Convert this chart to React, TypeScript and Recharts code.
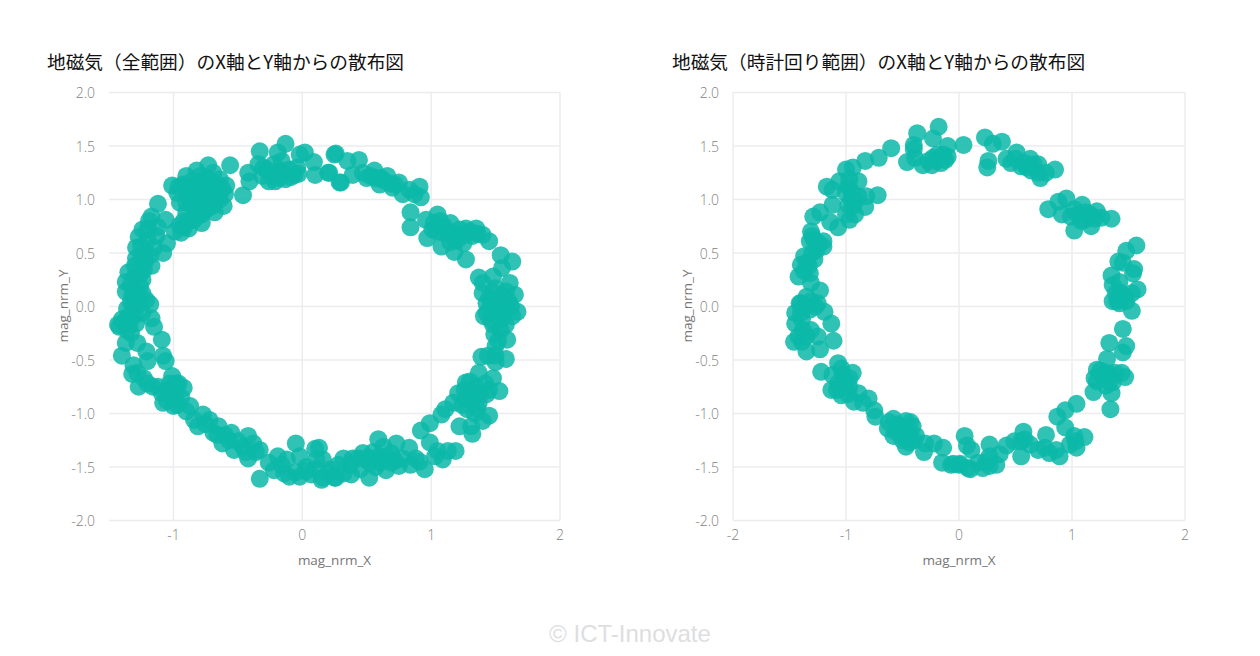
import { CartesianGrid, ReferenceLine, Scatter, ScatterChart, XAxis, YAxis } from "recharts"

type Pt = [number, number]

const yTicks = [-2, -1.5, -1, -0.5, 0, 0.5, 1, 1.5, 2]
const fullXTicks = [-1, 0, 1, 2]
const clockXTicks = [-2, -1, 0, 1, 2]

const fullTitle = "地磁気（全範囲）のX軸とY軸からの散布図"
const clockTitle = "地磁気（時計回り範囲）のX軸とY軸からの散布図"

// 全範囲
const fullTop: Pt[] = [
  [-0.13, 1.52], [-0.33, 1.45], [-0.19, 1.44], [0.02, 1.44], [0.09, 1.35], [-0.56, 1.32], [-0.73, 1.32],
  [0.25, 1.42], [0.21, 1.25], [0.1, 1.23], [0.3, 1.16], [-0.46, 1.04], [-0.42, 1.25], [-0.41, 1.17],
  [-0.34, 1.33], [-0.26, 1.17], [-0.21, 1.17], [-0.13, 1.19], [-0.06, 1.23], [-0.02, 1.42], [-0.1, 1.28],
  [-0.17, 1.27], [-0.28, 1.28], [-0.16, 1.36], [-0.04, 1.3], [-0.31, 1.22], [-0.23, 1.22], [-0.09, 1.21],
  [-0.18, 1.2], [-0.03, 1.24], [-0.3, 1.3], [-0.22, 1.33],
]
const fullUpperLeft: Pt[] = [
  [-0.9, 1.22], [-1.01, 1.13], [-0.82, 1.27], [-0.79, 1.22], [-0.6, 1.05], [-0.59, 1.13], [-0.64, 1.19],
  [-0.69, 1.25], [-0.74, 1.16], [-0.82, 1.13], [-0.9, 1.09], [-0.97, 1.06], [-0.95, 0.97], [-0.87, 1.0],
  [-0.79, 1.03], [-0.72, 1.03], [-0.64, 1.0], [-0.61, 0.94], [-0.68, 0.88], [-0.74, 0.91], [-0.82, 0.94],
  [-0.9, 0.88], [-0.84, 0.81], [-0.78, 0.78], [-0.88, 0.73], [-0.94, 0.69], [-0.99, 0.7], [-0.92, 0.8],
  [-0.77, 1.1], [-0.85, 1.05], [-0.7, 1.12], [-0.66, 1.08], [-0.76, 0.98], [-0.86, 1.17], [-0.93, 1.14],
  [-0.8, 1.08], [-0.72, 1.08], [-0.68, 0.98], [-0.78, 0.86], [-0.84, 0.92], [-0.9, 0.97], [-0.86, 1.1],
  [-0.74, 1.2], [-0.66, 1.14], [-0.8, 1.16], [-0.7, 0.94], [-0.82, 0.85], [-0.88, 0.8], [-0.95, 0.76],
  [-0.92, 0.74], [-0.74, 1.05], [-0.62, 1.1], [-0.96, 1.12], [-0.78, 0.96], [-0.71, 1.17],
  [-1.12, 0.96], [-1.17, 0.84], [-1.24, 0.72], [-1.06, 0.81], [-1.19, 0.8], [-1.13, 0.66], [-1.05, 0.59],
  [-1.08, 0.5], [-1.17, 0.38], [-1.29, 0.55], [-1.29, 0.45], [-1.25, 0.44], [-1.35, 0.32], [-1.23, 0.34],
  [-1.37, 0.23], [-1.37, 0.14], [-1.26, 0.19], [-1.28, 0.13], [-1.21, 0.06], [-1.32, 0.1], [-1.3, 0.28],
  [-1.22, 0.5], [-1.2, 0.62], [-1.27, 0.65], [-1.15, 0.55], [-1.22, 0.42], [-1.26, 0.3], [-1.3, 0.38],
  [-1.33, 0.2], [-1.27, 0.06], [-1.24, 0.12], [-1.24, 0.25], [-1.18, 0.48], [-1.12, 0.74], [-1.25, 0.56],
  [-1.33, 0.04], [-1.2, 0.72],
]
const fullRight: Pt[] = [
  [0.26, 1.43], [0.2, 1.25], [0.29, 1.16], [0.35, 1.36], [0.44, 1.37], [0.39, 1.23], [0.5, 1.2], [0.56, 1.27],
  [0.6, 1.14], [0.66, 1.22], [0.7, 1.11], [0.75, 1.16], [0.78, 1.05], [0.83, 1.09], [0.91, 1.12], [0.92, 1.02],
  [0.87, 1.05], [0.53, 1.22], [0.63, 1.18], [0.57, 1.2], [0.68, 1.15], [0.72, 1.14], [0.47, 1.25], [0.61, 1.2],
  [0.84, 0.88], [0.84, 0.74], [1.05, 0.86], [0.96, 0.81], [1.15, 0.78],
  [1.01, 0.72], [0.97, 0.64], [1.08, 0.56], [1.18, 0.51], [1.27, 0.44], [1.09, 0.69], [1.17, 0.66], [1.25, 0.59],
  [1.27, 0.73], [1.35, 0.73], [1.4, 0.67], [1.45, 0.61], [1.22, 0.72], [1.32, 0.66], [1.1, 0.75], [1.2, 0.62],
  [1.13, 0.7], [1.05, 0.7], [1.3, 0.7], [1.15, 0.6], [1.24, 0.66], [1.02, 0.78], [1.36, 0.68], [1.07, 0.8],
  [1.54, 0.48], [1.63, 0.42], [1.55, 0.36], [1.48, 0.28], [1.37, 0.27], [1.4, 0.22], [1.61, 0.22], [1.4, 0.125],
  [1.65, 0.11], [1.43, 0.03], [1.67, -0.05], [1.43, -0.06], [1.55, 0.1], [1.5, 0.17], [1.58, 0.02], [1.5, -0.02],
  [1.41, -0.09], [1.5, -0.06], [1.63, -0.09], [1.58, -0.17], [1.48, -0.17], [1.49, -0.26], [1.59, -0.31],
  [1.5, -0.37], [1.5, -0.46], [1.39, -0.47], [1.58, -0.49], [1.5, -0.52], [1.54, -0.12], [1.45, 0.08],
  [1.58, 0.14], [1.6, 0.05], [1.52, 0.06], [1.46, 0.0], [1.55, -0.04], [1.62, 0.0], [1.46, -0.12], [1.54, -0.22],
  [1.52, -0.32], [1.48, 0.13], [1.56, -0.08], [1.44, -0.46],
]
const fullLowerRight: Pt[] = [
  [1.37, -0.62], [1.48, -0.67], [1.53, -0.79], [1.27, -0.71], [1.21, -0.81], [1.32, -0.81], [1.43, -0.82],
  [1.27, -0.87], [1.37, -0.9], [1.28, -0.96], [1.45, -1.02], [1.4, -1.07], [1.22, -1.12], [1.31, -1.12],
  [1.32, -1.19], [1.17, -0.9], [1.11, -0.96], [1.08, -1.01], [1.35, -0.75], [1.3, -0.7], [1.42, -0.72],
  [1.32, -0.86], [1.38, -0.82], [1.26, -0.78], [1.45, -0.78], [1.36, -0.96], [1.24, -0.92], [1.34, -1.0],
  [0.99, -1.09], [0.92, -1.16], [0.99, -1.27], [1.19, -1.35], [1.13, -1.35], [1.09, -1.43], [1.05, -1.35],
  [1.03, -1.4], [0.95, -1.52], [0.91, -1.45], [0.83, -1.32], [0.84, -1.48], [0.75, -1.49], [0.73, -1.28],
  [0.59, -1.24], [0.63, -1.31], [0.66, -1.42], [0.65, -1.53], [0.52, -1.6], [0.47, -1.37], [0.52, -1.46],
  [0.6, -1.4], [0.69, -1.37], [0.32, -1.42], [0.38, -1.57], [0.39, -1.42], [0.26, -1.6], [0.32, -1.56],
  [0.16, -1.6], [0.16, -1.43], [0.13, -1.32], [0.45, -1.52], [0.57, -1.5], [0.72, -1.44], [0.22, -1.52],
  [0.55, -1.36], [0.6, -1.46], [0.43, -1.42], [0.37, -1.48], [0.28, -1.48], [0.2, -1.56], [0.78, -1.42],
  [0.88, -1.42], [0.49, -1.42], [0.69, -1.46], [0.1, -1.52], [0.03, -1.5], [0.55, -1.42],
]
const fullLowerLeft: Pt[] = [
  [-0.33, -1.61], [-0.05, -1.28], [0.1, -1.33], [-0.02, -1.4], [0.11, -1.43], [-0.22, -1.53], [-0.26, -1.46],
  [-0.19, -1.4], [-0.12, -1.43], [-0.1, -1.59], [-0.02, -1.59], [0.07, -1.57], [0.15, -1.62], [0.25, -1.6],
  [-0.14, -1.56], [-0.33, -1.34], [-0.42, -1.42], [-0.42, -1.21], [-0.38, -1.28], [-0.46, -1.31], [-0.53, -1.34],
  [-0.55, -1.18], [-0.62, -1.28], [-0.57, -1.25], [-0.65, -1.12], [-0.69, -1.18], [-0.77, -1.01], [-0.81, -1.12],
  [-0.84, -1.06], [-0.87, -0.93], [-1.0, -0.93], [-1.08, -0.9], [-0.92, -0.76], [-1.01, -0.65], [-0.96, -0.72],
  [-1.04, -0.78], [-0.98, -0.86], [-1.09, -0.81], [-1.16, -0.75], [-1.27, -0.75], [-1.23, -0.67], [-1.32, -0.63],
  [-1.31, -0.55], [-1.21, -0.42], [-1.2, -0.51], [-1.06, -0.51], [-1.08, -0.46], [-1.09, -0.31], [-1.15, -0.19],
  [-1.28, -0.34], [-1.4, -0.46], [-1.37, -0.34], [-1.42, -0.19], [-1.38, -0.14], [-1.29, -0.16], [-1.33, -0.25],
  [-1.18, 0.02], [-1.31, 0], [-1.24, -0.06], [-1.35, -0.09], [-1.17, -0.11], [-0.94, -0.85], [-1.03, -0.72],
  [-0.72, -1.06], [-0.6, -1.2], [-0.5, -1.26], [-0.44, -1.36], [-0.36, -1.36], [-0.75, -1.1], [-0.66, -1.2],
  [-0.9, -0.98], [-1.05, -0.88], [-0.97, -0.92], [-1.0, -0.78], [-0.98, -0.72], [-1.12, -0.75], [-0.05, -1.55],
  [0.03, -1.54], [-0.16, -1.48], [-1.36, -0.22], [-1.4, -0.12], [-1.3, -0.08], [-1.27, 0.02], [-1.36, -0.02],
  [-1.28, -0.62], [-1.2, -0.72], [-1.43, -0.17], [-1.34, -0.16],
]

// 時計回り範囲
const clockTop: Pt[] = [
  [-0.18, 1.68], [-0.37, 1.62], [-0.23, 1.57], [-0.4, 1.51], [-0.4, 1.47], [0.04, 1.51], [-0.1, 1.5], [-0.6, 1.48],
  [-0.71, 1.39], [-0.83, 1.36], [-0.94, 1.3], [-1.0, 1.28], [-0.46, 1.35], [-0.39, 1.39], [-0.32, 1.32], [-0.24, 1.32],
  [-0.16, 1.34], [-0.1, 1.4], [-0.19, 1.42], [-0.23, 1.39], [-0.14, 1.42], [-0.2, 1.36], [-0.27, 1.36], [-0.12, 1.37],
]
const clockUpperLeft: Pt[] = [
  [-1.06, 1.17], [-0.89, 1.17], [-1.17, 1.12], [-1.12, 1.09], [-0.98, 1.12], [-0.97, 1.19], [-0.72, 1.04], [-0.82, 1.03],
  [-0.89, 1.03], [-0.83, 0.93], [-0.95, 1.0], [-1.12, 0.95], [-1.23, 0.88], [-1.29, 0.84], [-1.14, 0.79], [-1.07, 0.74],
  [-1.0, 0.86], [-0.97, 0.81], [-0.92, 0.86], [-0.94, 0.94], [-0.98, 0.95], [-0.95, 1.07], [-0.92, 0.98], [-1.0, 1.06],
  [-1.31, 0.7], [-1.32, 0.61], [-1.2, 0.61], [-1.2, 0.56], [-1.26, 0.53], [-1.37, 0.47], [-1.4, 0.39], [-1.35, 0.41],
  [-1.28, 0.44], [-1.42, 0.28], [-1.32, 0.31], [-1.31, 0.22], [-1.23, 0.15], [-1.35, 0.09], [-1.4, 0.03], [-1.25, 0.03],
  [-1.28, 0.62], [-1.3, 0.5], [-1.33, 0.38], [-1.37, 0.33], [-1.24, 0.59], [-1.3, 0.66],
]
const clockLowerLeft: Pt[] = [
  [-1.31, 0.05], [-1.41, 0.03], [-1.19, -0.05], [-1.13, -0.16], [-1.11, -0.32], [-1.45, -0.06], [-1.45, -0.16], [-1.46, -0.33],
  [-1.39, -0.33], [-1.35, -0.42], [-1.23, -0.4], [-1.25, -0.28], [-1.31, -0.22], [-1.38, -0.22], [-1.39, -0.12], [-1.32, -0.03],
  [-1.36, 0.0], [-1.4, -0.06], [-1.35, -0.28], [-1.42, -0.28], [-1.27, 0.0],
  [-1.22, -0.61], [-1.07, -0.53], [-0.94, -0.62], [-1.12, -0.64], [-1.03, -0.64], [-1.13, -0.78], [-1.04, -0.83], [-0.97, -0.75],
  [-1.07, -0.72], [-0.89, -0.81], [-0.93, -0.89], [-0.8, -0.86], [-0.85, -0.9], [-0.75, -0.97], [-0.74, -1.03],
  [-1.02, -0.74], [-1.0, -0.7], [-1.08, -0.78], [-0.97, -0.67], [-1.04, -0.58], [-0.98, -0.82],
  [-0.58, -1.05], [-0.63, -1.14], [-0.58, -1.21], [-0.47, -1.07], [-0.41, -1.12], [-0.44, -1.18], [-0.53, -1.15], [-0.5, -1.25],
  [-0.47, -1.31], [-0.4, -1.25], [-0.38, -1.21], [-0.3, -1.28], [-0.31, -1.36], [-0.22, -1.28], [-0.14, -1.32], [-0.15, -1.46],
  [-0.07, -1.48], [0, -1.48], [0.08, -1.51], [-0.55, -1.1], [-0.62, -1.08], [-0.56, -1.17], [-0.48, -1.2], [-0.44, -1.27],
  [-0.5, -1.14], [-0.43, -1.08],
]
const clockUpperRight: Pt[] = [
  [0.23, 1.58], [0.3, 1.52], [0.38, 1.54], [0.26, 1.36], [0.25, 1.3], [0.42, 1.38], [0.51, 1.44], [0.46, 1.34], [0.55, 1.31],
  [0.63, 1.38], [0.64, 1.27], [0.7, 1.33], [0.72, 1.2], [0.77, 1.25], [0.85, 1.28], [0.7, 1.25], [0.5, 1.38], [0.58, 1.34],
  [0.6, 1.3], [0.66, 1.33],
  [0.79, 0.91], [0.88, 0.98], [0.95, 1.01], [0.91, 0.86], [1.09, 0.95], [1.02, 0.91], [1.02, 0.71], [1.17, 0.75], [1.11, 0.81],
  [1.22, 0.89], [1.26, 0.83], [1.35, 0.82], [0.99, 0.84], [1.16, 0.86], [1.08, 0.8], [1.05, 0.86], [1.12, 0.88], [1.2, 0.82],
  [1.57, 0.57], [1.48, 0.52], [1.41, 0.42], [1.45, 0.41], [1.55, 0.35], [1.54, 0.31], [1.35, 0.29], [1.36, 0.2], [1.42, 0.23],
  [1.58, 0.16], [1.53, 0.125], [1.36, 0.05], [1.42, 0.03], [1.48, 0.05], [1.39, 0.125], [1.53, -0.04], [1.43, 0.13], [1.46, 0.1],
  [1.4, 0.05],
]
const clockLowerRight: Pt[] = [
  [1.45, -0.21], [1.33, -0.34], [1.48, -0.37], [1.45, -0.43], [1.31, -0.49], [1.22, -0.59], [1.2, -0.67], [1.44, -0.62], [1.47, -0.66],
  [1.33, -0.63], [1.27, -0.65], [1.36, -0.71], [1.19, -0.8], [1.35, -0.81], [1.34, -0.96], [1.22, -0.7], [1.3, -0.74], [1.33, -0.7],
  [1.25, -0.6], [1.38, -0.62], [1.3, -0.62],
  [1.04, -0.91], [0.94, -0.97], [0.87, -1.03], [0.94, -1.13], [1.11, -1.22], [1.02, -1.21], [0.77, -1.2], [1.04, -1.32], [0.98, -1.29],
  [0.89, -1.4], [0.8, -1.37], [0.76, -1.32], [0.86, -1.34], [0.7, -1.34], [0.57, -1.17], [0.55, -1.4], [0.49, -1.26], [0.63, -1.29],
  [0.55, -1.26], [0.42, -1.3], [0.27, -1.29], [0.05, -1.21], [0.07, -1.3], [0.11, -1.34], [0.36, -1.38], [0.33, -1.48], [0.21, -1.51],
  [0.1, -1.52], [0.27, -1.4], [0.27, -1.49], [0.01, -1.47], [-0.05, -1.47], [0.17, -1.46], [0.24, -1.45], [1.03, -1.26], [0.58, -1.24],
]

const toRows = (pts: Pt[]) => pts.map(([x, y]) => ({ x, y }))
const fullData = toRows([...fullTop, ...fullUpperLeft, ...fullRight, ...fullLowerRight, ...fullLowerLeft])
const clockData = toRows([...clockTop, ...clockUpperLeft, ...clockLowerLeft, ...clockUpperRight, ...clockLowerRight])

const color = "#0cb9a8"
const gridColor = "#ececf0"
const tickStyle = { fill: "#828282", fontSize: 14, fontFamily: "Open Sans", fontWeight: 300, dy: 1 }
const labelStyle = { fill: "#767676", fontSize: 13.5, fontFamily: "Open Sans", fontWeight: 400 }

const Dot = (p: any) => <circle cx={p.cx} cy={p.cy} r={9} fill={color} fillOpacity={0.85} />

type PanelProps = {
  data: { x: number; y: number }[]
  xDomain: number[]
  xTicks: number[]
  left: number
  right: number
}

function Panel({ data, xDomain, xTicks, left, right }: PanelProps) {
  return (
    <ScatterChart width={630} height={656} margin={{ left: left - 50, right, top: 92.5, bottom: 105.5 }}>
      <CartesianGrid stroke={gridColor} strokeWidth={1.5} vertical={false} />
      {/* 縦線は目盛りのある位置だけ */}
      {xTicks.map((t) => (
        <ReferenceLine key={t} x={t} stroke={gridColor} strokeWidth={1.5} />
      ))}
      <XAxis
        type="number"
        dataKey="x"
        domain={xDomain}
        ticks={xTicks}
        tickLine={false}
        axisLine={false}
        tick={tickStyle}
        tickMargin={3}
        height={30}
        allowDataOverflow
        label={{ value: "mag_nrm_X", position: "insideBottom", offset: -14, style: labelStyle }}
      />
      <YAxis
        type="number"
        dataKey="y"
        domain={[-2, 2]}
        ticks={yTicks}
        tickFormatter={(v: number) => v.toFixed(1)}
        tickLine={false}
        axisLine={false}
        tick={tickStyle}
        tickMargin={8}
        width={50}
        allowDataOverflow
        label={{ value: "mag_nrm_Y", angle: -90, position: "insideLeft", offset: 0, dx: 4, dy: 36, style: labelStyle }}
      />
      <Scatter data={data} shape={Dot} isAnimationActive={false} />
    </ScatterChart>
  )
}

const titleStyle: React.CSSProperties = {
  position: "absolute",
  top: 48,
  fontFamily: "'Noto Sans CJK JP'",
  fontSize: 18.7,
  color: "#111",
  whiteSpace: "nowrap",
  lineHeight: "26px",
}

export default function App() {
  return (
    <div style={{ position: "absolute", left: 0, top: 0, width: 1260, height: 656, background: "#fff", overflow: "hidden" }}>
      <div style={{ position: "absolute", left: 0, top: 0 }}>
        <Panel data={fullData} xDomain={[-1.5, 2]} xTicks={fullXTicks} left={109} right={70} />
      </div>
      <div style={{ position: "absolute", left: 630, top: 0 }}>
        <Panel data={clockData} xDomain={[-2, 2]} xTicks={clockXTicks} left={103} right={75} />
      </div>
      <div style={{ ...titleStyle, left: 47 }}>{fullTitle}</div>
      <div style={{ ...titleStyle, left: 672 }}>{clockTitle}</div>
      <div
        style={{
          position: "absolute",
          left: 0,
          width: 1260,
          top: 620,
          textAlign: "center",
          fontFamily: "'Liberation Sans'",
          fontSize: 24,
          color: "#dedee0",
        }}
      >
        © ICT-Innovate
      </div>
    </div>
  )
}
